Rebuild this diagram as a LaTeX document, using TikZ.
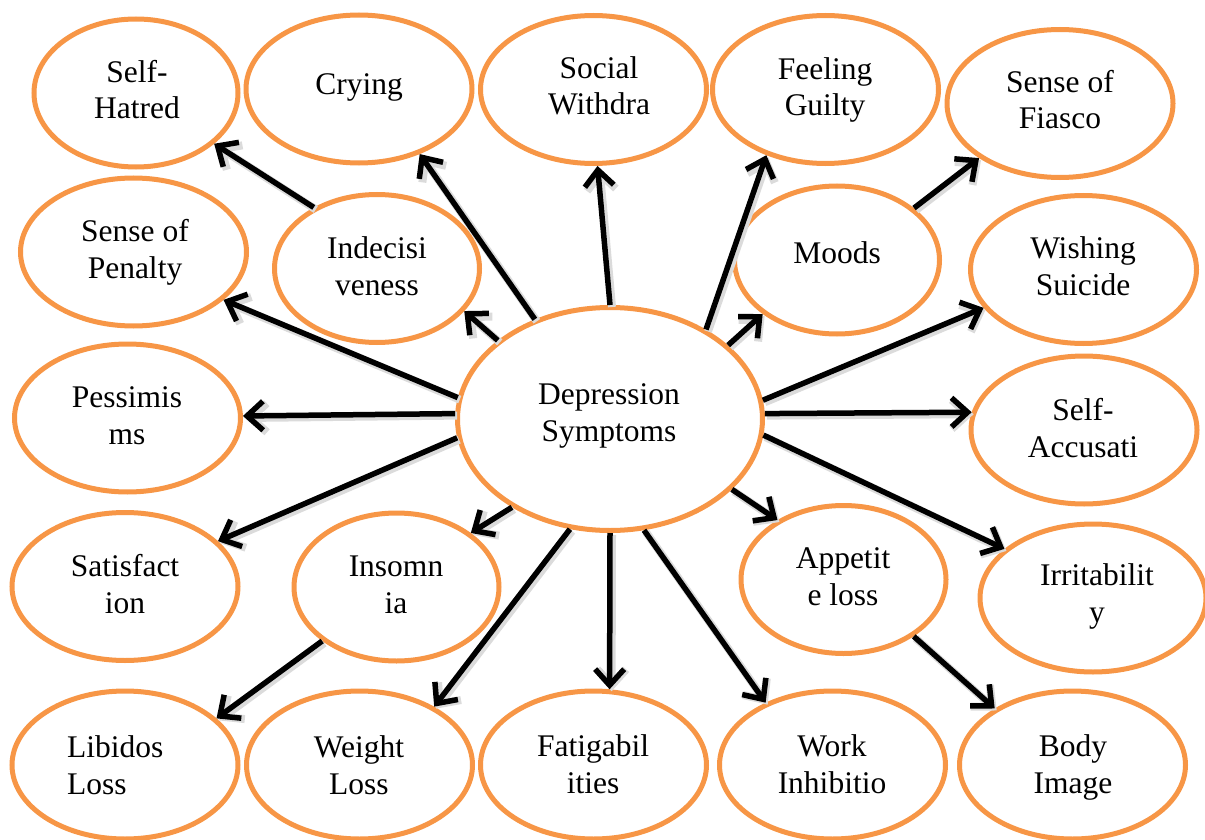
\documentclass[tikz,border=0pt]{standalone}
\usepackage{fontspec}
\setmainfont{Liberation Serif}
\usetikzlibrary{shapes.geometric,arrows.meta}
\definecolor{ring}{HTML}{F79646}
\begin{document}
\begin{tikzpicture}[x=1pt,y=-1pt,
  oval/.style={ellipse, draw=ring, line width=5pt, fill=white, inner sep=0pt,
               minimum width=226pt, minimum height=148pt},
  smalloval/.style={oval, minimum width=205pt},
  lbl/.style={inner sep=0pt, anchor=base, align=center,
              font=\fontsize{31.5}{36.5}\selectfont},
  arr/.style={line width=5.5pt, -{Straight Barb[length=16pt,width=29pt]},
              preaction={draw=black!14, line width=8pt,
                         transform canvas={shift={(2pt,-2pt)}}}}]
\useasboundingbox (0,0) rectangle (1205,840);

% ellipses
\node[smalloval, minimum width=204pt] (selfhatred) at (136,93) {};
\node[oval] (crying)   at (359,89) {};
\node[oval] (social)   at (593.5,89.5) {};
\node[oval] (guilty)   at (825.5,89.5) {};
\node[oval] (fiasco)   at (1060,103.5) {};
\node[oval] (penalty)  at (133.5,252) {};
\node[smalloval] (indecis) at (377,268.5) {};
\node[smalloval] (moods)   at (837,260) {};
\node[oval] (wishing)  at (1083.5,269.5) {};
\node[oval] (pessim)   at (127.5,418) {};
\node[oval, minimum width=305pt, minimum height=223pt] (dep) at (610,419) {};
\node[oval] (selfacc)  at (1084,430) {};
\node[oval] (satisf)   at (125,586.5) {};
\node[smalloval] (insomnia) at (396.5,587) {};
\node[smalloval] (appetite) at (843.5,579.5) {};
\node[oval] (irrit)    at (1093,598) {};
\node[oval] (libidos)  at (125,765) {};
\node[oval] (weight)   at (359.5,765) {};
\node[oval] (fatig)    at (593.5,765) {};
\node[oval] (work)     at (832.5,765) {};
\node[oval] (body)     at (1072.5,765) {};

% labels (anchor base = baseline of the last line)
\node[lbl] (tselfhatred) at (137,119) {Self-\\Hatred};
\node[lbl] (tcrying)   at (359,95) {Crying};
\node[lbl] (tsocial)   at (599,115) {Social\\Withdra};
\node[lbl] (tguilty)   at (825,116) {Feeling\\Guilty};
\node[lbl] (tfiasco)   at (1060,129) {Sense of\\Fiasco};
\node[lbl] (tpenalty)  at (135,278) {Sense of\\Penalty};
\node[lbl] (tindecis)  at (377,295) {Indecisi\\veness};
\node[lbl] (tmoods)    at (837,263) {Moods};
\node[lbl] (twishing)  at (1083,295) {Wishing\\Suicide};
\node[lbl] (tpessim)   at (127,444) {Pessimis\\ms};
\node[lbl] (tdep)      at (609,441) {Depression\\Symptoms};
\node[lbl] (tselfacc)  at (1083,457) {Self-\\Accusati};
\node[lbl] (tsatisf)   at (125,613) {Satisfact\\ion};
\node[lbl] (tinsomnia) at (396,613) {Insomn\\ia};
\node[lbl] (tappetite) at (843,605) {Appetit\\e loss};
\node[lbl] (tirrit)    at (1097,622) {Irritabilit\\y};
\node[lbl, anchor=base west, align=left] (tlibidos) at (67,794) {Libidos\\Loss};
\node[lbl] (tweight)   at (359,794) {Weight\\Loss};
\node[lbl] (tfatig)    at (593,793) {Fatigabil\\ities};
\node[lbl] (twork)     at (832,793) {Work\\Inhibitio};
\node[lbl] (tbody)     at (1073,793) {Body\\Image};

% arrows
\draw[arr] (dep.127)    -- (crying.-47.6);
\draw[arr] (dep.90.5)   -- (social.-87.3);
\draw[arr] (dep.43.8)   -- (guilty.-132.8);
\draw[arr] (dep.32)     -- (moods.-144.4);
\draw[arr] (moods.34.2) -- (fiasco.-146.1);
\draw[arr] (dep.7.8)    -- (wishing.-159.5);
\draw[arr] (dep.2.2)    -- (selfacc.171.5);
\draw[arr] (dep.-6.7)   -- (irrit.151.9);
\draw[arr] (dep.-30.3)  -- (appetite.138.3);
\draw[arr] (appetite.-39) -- (body.144.8);
\draw[arr] (dep.-73.6)  -- (work.137.4);
\draw[arr] (dep.-90.5)  -- (fatig.78);
\draw[arr] (dep.-110.6) -- (weight.38.9);
\draw[arr] (dep.-138.4) -- (insomnia.36);
\draw[arr] (insomnia.-144.2) -- (libidos.27.3);
\draw[arr] (dep.-173.7) -- (satisf.26.1);
\draw[arr] (dep.178.2)  -- (pessim.1.9);
\draw[arr] (dep.172.3)  -- (penalty.-28);
\draw[arr] (dep.145.4)  -- (indecis.-26.6);
\draw[arr] (indecis.136.2) -- (selfhatred.-33.4);
\end{tikzpicture}
\end{document}
